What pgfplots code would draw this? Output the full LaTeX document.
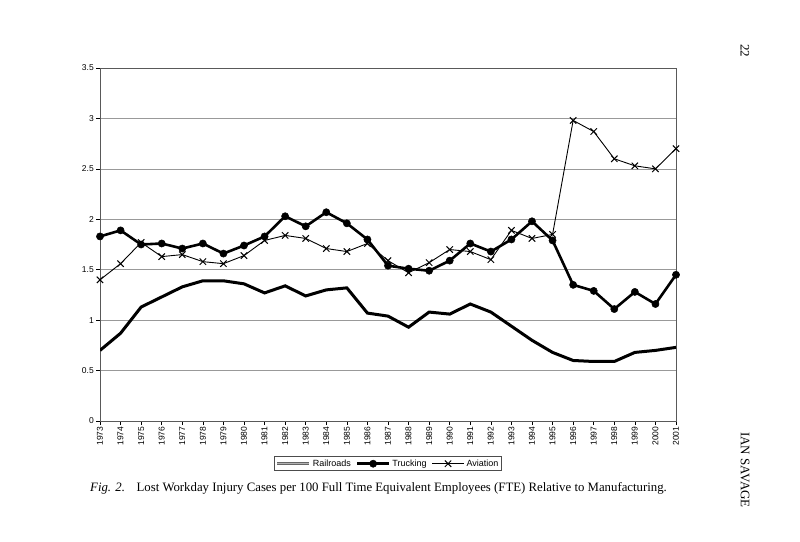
\documentclass[border=0pt]{standalone}
\usepackage{pgfplots}
\pgfplotsset{compat=1.18}
\usepackage{pgfplotstable}
\usepackage{fontspec}
\setmainfont{Liberation Serif}
\newfontfamily\arial{Liberation Sans}

\pgfplotstableread{
year rail truck avia
1973 0.70 1.83 1.40
1974 0.87 1.89 1.56
1975 1.13 1.75 1.77
1976 1.23 1.76 1.63
1977 1.33 1.71 1.65
1978 1.39 1.76 1.58
1979 1.39 1.66 1.56
1980 1.36 1.74 1.64
1981 1.27 1.83 1.79
1982 1.34 2.03 1.84
1983 1.24 1.93 1.81
1984 1.30 2.07 1.71
1985 1.32 1.96 1.68
1986 1.07 1.80 1.76
1987 1.04 1.54 1.59
1988 0.93 1.51 1.47
1989 1.08 1.49 1.57
1990 1.06 1.59 1.70
1991 1.16 1.76 1.68
1992 1.08 1.68 1.60
1993 0.94 1.80 1.89
1994 0.80 1.98 1.81
1995 0.68 1.79 1.85
1996 0.60 1.35 2.98
1997 0.59 1.29 2.87
1998 0.59 1.11 2.60
1999 0.68 1.28 2.53
2000 0.70 1.16 2.50
2001 0.73 1.45 2.70
}\datatable

\begin{document}
\begin{tikzpicture}
\path[use as bounding box] (0pt,0pt) rectangle (800pt,541pt);
\begin{axis}[
  at={(100pt,120pt)}, anchor=south west,
  width=576pt, height=353pt, scale only axis,
  xmin=1973, xmax=2001, ymin=0, ymax=3.5,
  xtick={1973,...,2001},
  ytick={0,0.5,1,1.5,2,2.5,3,3.5},
  ymajorgrids, grid style={gray!80, line width=0.6pt},
  axis line style={gray!70!black, line width=0.6pt},
  tick style={black, line width=0.6pt},
  tick align=outside, major tick length=4pt,
  xtick pos=left, ytick pos=left,
  /pgf/number format/assume math mode=true,
  xticklabel style={rotate=90, anchor=east, font=\arial\fontsize{8.5}{10}\selectfont, /pgf/number format/1000 sep={}, inner sep=1.5pt},
  yticklabel style={font=\arial\fontsize{8.5}{10}\selectfont, inner sep=2pt},
  legend columns=3,
  legend style={at={(0.5,-0.121)}, anchor=center, draw=gray!60!black, line width=0.6pt,
    font=\arial\fontsize{9}{10}\selectfont, inner sep=1pt,
    /tikz/every even column/.append style={column sep=3pt},
    /tikz/every odd column/.append style={column sep=0pt}},
  legend image code/.code={\draw[mark repeat=2, mark phase=2, #1] plot coordinates {(0pt,0pt) (16pt,0pt) (32pt,0pt)};},
]
\addplot[black, line width=3pt, no markers,
  legend image code/.code={\draw[gray!80!black, line width=3.2pt] (0pt,0pt) -- (32pt,0pt); \draw[gray!60, line width=1pt] (0pt,0pt) -- (32pt,0pt);}]
  table[x=year, y=rail] {\datatable};
\addlegendentry{Railroads}
\addplot[black, line width=2.6pt, mark=*, mark size=3.6pt, mark options={line width=0.5pt}]
  table[x=year, y=truck] {\datatable};
\addlegendentry{Trucking}
\addplot[black, line width=0.9pt, mark=x, mark size=4.5pt, mark options={line width=1pt}]
  table[x=year, y=avia] {\datatable};
\addlegendentry{Aviation}
\end{axis}
\node[anchor=base west, font=\fontsize{12.8}{15}\selectfont, inner sep=0pt] at (90pt,50pt)
  {\textit{Fig. 2.}\hspace{0.9em}Lost Workday Injury Cases per 100 Full Time Equivalent Employees (FTE) Relative to Manufacturing.};
\node[rotate=-90, font=\fontsize{13}{15}\selectfont, inner sep=0pt] at (745pt,490pt) {22};
\node[rotate=-90, font=\fontsize{13}{15}\selectfont, inner sep=0pt] at (745pt,71pt) {IAN SAVAGE};
\end{tikzpicture}
\end{document}
